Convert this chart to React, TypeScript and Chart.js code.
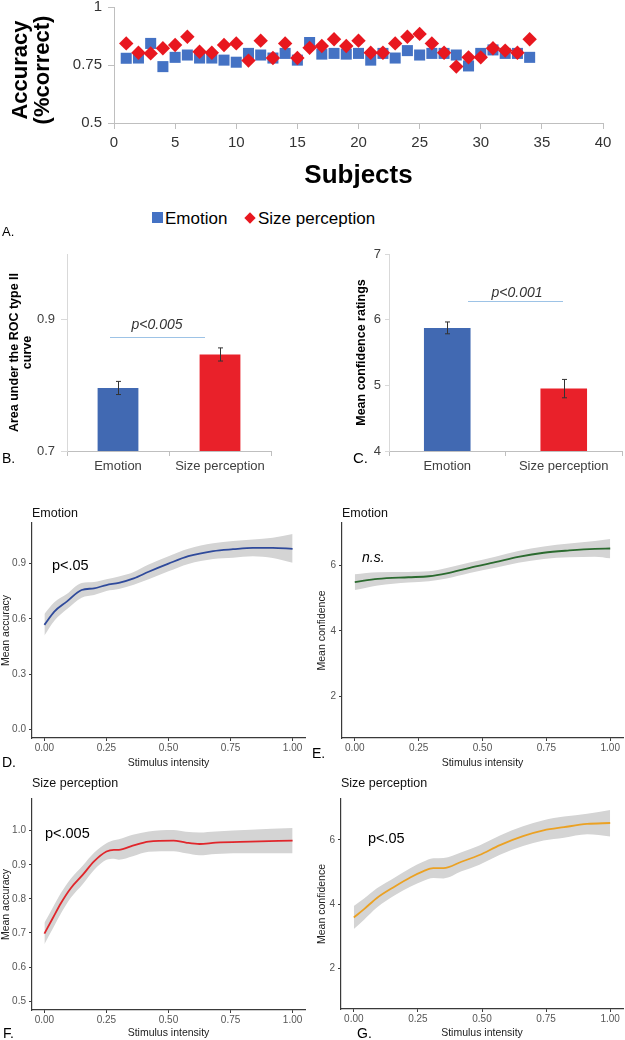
import React, { useEffect, useRef } from 'react';
import { Chart, registerables } from 'chart.js';

Chart.register(...registerables);

const FONT = '"Liberation Sans", Arial, Helvetica, sans-serif';
Chart.defaults.font.family = FONT;

// ---------- Panel A: accuracy per subject ----------
const subjects = [1, 2, 3, 4, 5, 6, 7, 8, 9, 10, 11, 12, 13, 14, 15, 16, 17, 18, 19, 20, 21, 22, 23, 24, 25, 26, 27, 28, 29, 30, 31, 32, 33, 34];
const emotionAcc = [0.779, 0.78, 0.843, 0.743, 0.783, 0.793, 0.78, 0.78, 0.771, 0.762, 0.8, 0.793, 0.78, 0.8, 0.771, 0.847, 0.797, 0.8, 0.797, 0.8, 0.771, 0.8, 0.78, 0.812, 0.793, 0.8, 0.8, 0.793, 0.746, 0.8, 0.815, 0.8, 0.8, 0.783];
const sizeAcc = [0.843, 0.803, 0.8, 0.822, 0.836, 0.872, 0.807, 0.803, 0.836, 0.843, 0.769, 0.855, 0.78, 0.843, 0.78, 0.824, 0.832, 0.861, 0.832, 0.855, 0.803, 0.803, 0.843, 0.872, 0.884, 0.843, 0.803, 0.743, 0.783, 0.783, 0.822, 0.812, 0.803, 0.861];
const aXTicks = [0, 5, 10, 15, 20, 25, 30, 35, 40];
const aYTicks = [0.5, 0.75, 1];

// ---------- Panels B & C: bars ----------
const barCategories = ['Emotion', 'Size perception'];
const aucMeans = [0.796, 0.847];
const aucErr = [0.01, 0.01];
const aucTicks = [0.7, 0.9];
const confMeans = [5.875, 4.95];
const confErr = [0.09, 0.14];
const confTicks = [4, 5, 6, 7];

// ---------- Panels D-G: smoothed curves ----------
const intensityTicks = [0, 0.25, 0.5, 0.75, 1];

const dX = [0, 0.04, 0.09, 0.15, 0.2, 0.25, 0.3, 0.36, 0.42, 0.5, 0.58, 0.68, 0.76, 0.84, 0.92, 1.0];
const dMean = [0.568, 0.64, 0.694, 0.757, 0.766, 0.784, 0.796, 0.82, 0.856, 0.9, 0.94, 0.968, 0.978, 0.985, 0.985, 0.98];
const dHi = [0.627, 0.69, 0.735, 0.795, 0.8, 0.815, 0.83, 0.855, 0.895, 0.94, 0.98, 1.01, 1.022, 1.03, 1.04, 1.06];
const dLo = [0.51, 0.59, 0.652, 0.715, 0.73, 0.752, 0.762, 0.785, 0.815, 0.858, 0.898, 0.925, 0.932, 0.94, 0.93, 0.904];
const dTicks = [0, 0.3, 0.6, 0.9];

const eX = [0, 0.09, 0.21, 0.29, 0.36, 0.45, 0.55, 0.64, 0.74, 0.84, 0.94, 1.0];
const eMean = [5.49, 5.59, 5.64, 5.67, 5.76, 5.93, 6.1, 6.26, 6.39, 6.46, 6.51, 6.52];
const eHi = [5.73, 5.79, 5.8, 5.82, 5.92, 6.09, 6.27, 6.44, 6.58, 6.67, 6.75, 6.81];
const eLo = [5.25, 5.39, 5.48, 5.52, 5.6, 5.77, 5.93, 6.08, 6.2, 6.25, 6.27, 6.22];
const eTicks = [2, 4, 6];

const fX = [0, 0.034, 0.067, 0.107, 0.155, 0.2, 0.25, 0.28, 0.3, 0.356, 0.42, 0.52, 0.57, 0.625, 0.69, 0.83, 1.0];
const fMean = [0.698, 0.744, 0.788, 0.832, 0.871, 0.91, 0.939, 0.944, 0.944, 0.956, 0.968, 0.971, 0.965, 0.961, 0.965, 0.968, 0.971];
const fHi = [0.73, 0.775, 0.818, 0.86, 0.898, 0.935, 0.963, 0.972, 0.975, 0.988, 0.998, 1.002, 0.997, 0.995, 0.998, 1.003, 1.008];
const fLo = [0.667, 0.713, 0.758, 0.804, 0.844, 0.885, 0.915, 0.918, 0.915, 0.925, 0.938, 0.94, 0.934, 0.928, 0.932, 0.934, 0.934];
const fTicks = [0.5, 0.6, 0.7, 0.8, 0.9, 1.0];

const gX = [0, 0.04, 0.09, 0.16, 0.22, 0.27, 0.31, 0.35, 0.42, 0.49, 0.57, 0.66, 0.74, 0.82, 0.91, 1.0];
const gMean = [3.58, 3.84, 4.19, 4.55, 4.83, 5.02, 5.12, 5.12, 5.32, 5.53, 5.84, 6.12, 6.3, 6.4, 6.5, 6.53];
const gHi = [3.94, 4.17, 4.49, 4.83, 5.12, 5.32, 5.43, 5.44, 5.62, 5.83, 6.14, 6.43, 6.62, 6.73, 6.82, 6.94];
const gLo = [3.22, 3.51, 3.89, 4.27, 4.54, 4.72, 4.81, 4.8, 5.02, 5.23, 5.54, 5.81, 5.98, 6.07, 6.18, 6.11];
const gTicks = [2, 4, 6];

// ---------- colours ----------
const SC_BLUE = '#4472C4';
const SC_RED = '#E8171F';
const BAR_BLUE = '#4169B2';
const BAR_RED = '#E9212A';
const BAND = '#D4D4D4';
const AXIS_DARK = '#3a3a3a';

type Box = { left: number; top: number; width: number; height: number };

function ChartCanvas({ box, make }: { box: Box; make: () => any }) {
  const ref = useRef<HTMLCanvasElement>(null);
  useEffect(() => {
    const chart = new Chart(ref.current as HTMLCanvasElement, make());
    return () => chart.destroy();
  }, []);
  return (
    <div style={{ position: 'absolute', left: box.left, top: box.top, width: box.width, height: box.height }}>
      <canvas ref={ref} width={box.width} height={box.height} style={{ width: box.width, height: box.height, display: 'block' }} />
    </div>
  );
}

const setTicks = (vals: number[]) => (s: any) => {
  s.ticks = vals.map((v) => ({ value: v }));
};
const fixW = (w: number) => (s: any) => {
  s.width = w;
};
const fixH = (h: number) => (s: any) => {
  s.height = h;
};

const baseOpts = {
  responsive: false,
  animation: false,
  devicePixelRatio: 1,
  events: [],
};

function makeScatter() {
  return {
    type: 'scatter',
    data: {
      datasets: [
        {
          label: 'Emotion',
          data: subjects.map((s, i) => ({ x: s, y: emotionAcc[i] })),
          pointStyle: 'rect',
          pointRadius: 7.8,
          backgroundColor: SC_BLUE,
          borderWidth: 0,
          order: 2,
        },
        {
          label: 'Size perception',
          data: subjects.map((s, i) => ({ x: s, y: sizeAcc[i] })),
          pointStyle: 'rectRot',
          pointRadius: 7.2,
          backgroundColor: SC_RED,
          borderWidth: 0,
          order: 1,
        },
      ],
    },
    options: {
      ...baseOpts,
      layout: { padding: { left: 0, top: 17, right: 22, bottom: 0 } },
      plugins: { legend: { display: false }, tooltip: { enabled: false } },
      scales: {
        x: {
          type: 'linear',
          min: 0,
          max: 40,
          afterFit: fixH(72),
          afterBuildTicks: setTicks(aXTicks),
          grid: { drawOnChartArea: false, drawTicks: true, tickLength: 6, color: '#BFBFBF' },
          border: { display: true, color: '#BFBFBF', width: 1 },
          ticks: { font: { size: 15 }, color: '#333', padding: 5, autoSkip: false, maxRotation: 0, callback: (v: number) => String(v) },
          title: { display: true, text: 'Subjects', color: '#000', font: { size: 26, weight: 'bold', lineHeight: 1.15 }, padding: { top: 0, bottom: 4 } },
        },
        y: {
          type: 'linear',
          min: 0.5,
          max: 1,
          afterFit: fixW(114),
          afterBuildTicks: setTicks(aYTicks),
          grid: { drawOnChartArea: false, drawTicks: true, tickLength: 6, color: '#BFBFBF' },
          border: { display: true, color: '#BFBFBF', width: 1 },
          ticks: { font: { size: 15 }, color: '#333', padding: 6, callback: (v: number) => String(v) },
          title: { display: false },
        },
      },
    },
  };
}

function errorBars(errs: number[]) {
  return {
    id: 'errorBars',
    afterDatasetsDraw(chart: any) {
      const meta = chart.getDatasetMeta(0);
      const ys = chart.scales.y;
      const vals = chart.data.datasets[0].data;
      const ctx = chart.ctx;
      ctx.save();
      ctx.strokeStyle = '#333';
      ctx.lineWidth = 1;
      meta.data.forEach((bar: any, i: number) => {
        const x = Math.round(bar.x) + 0.5;
        const t = ys.getPixelForValue(vals[i] + errs[i]);
        const b = ys.getPixelForValue(vals[i] - errs[i]);
        ctx.beginPath();
        ctx.moveTo(x, t);
        ctx.lineTo(x, b);
        ctx.moveTo(x - 2.5, t);
        ctx.lineTo(x + 2.5, t);
        ctx.moveTo(x - 2.5, b);
        ctx.lineTo(x + 2.5, b);
        ctx.stroke();
      });
      ctx.restore();
    },
  };
}

function makeBar(spec: {
  values: number[];
  errs: number[];
  min: number;
  max: number;
  ticks: number[];
  digits: number;
  yWidth: number;
  padTop: number;
  padRight: number;
  xHeight: number;
  title: string | string[];
  titlePad: number;
  tickLen: number;
  tickPad: number;
}) {
  return {
    type: 'bar',
    data: {
      labels: barCategories,
      datasets: [
        {
          data: spec.values,
          backgroundColor: [BAR_BLUE, BAR_RED],
          barPercentage: 0.4,
          categoryPercentage: 1,
        },
      ],
    },
    options: {
      ...baseOpts,
      layout: { padding: { left: 0, top: spec.padTop, right: spec.padRight, bottom: 0 } },
      plugins: { legend: { display: false }, tooltip: { enabled: false } },
      scales: {
        x: {
          afterFit: fixH(spec.xHeight),
          grid: { offset: true, drawOnChartArea: false, drawTicks: true, tickLength: 5, color: '#BFBFBF' },
          border: { display: true, color: '#BFBFBF', width: 1 },
          ticks: { font: { size: 13 }, color: '#404040', padding: 3, maxRotation: 0, autoSkip: false },
        },
        y: {
          min: spec.min,
          max: spec.max,
          afterFit: fixW(spec.yWidth),
          afterBuildTicks: setTicks(spec.ticks),
          grid: { drawOnChartArea: false, drawTicks: true, tickLength: spec.tickLen, color: '#D9D9D9' },
          border: { display: true, color: '#D9D9D9', width: 1 },
          ticks: { font: { size: 13 }, color: '#404040', padding: spec.tickPad, callback: (v: number) => v.toFixed(spec.digits) },
          title: { display: true, text: spec.title, color: '#000', font: { size: 12.5, weight: 'bold', lineHeight: 1.04 }, padding: { top: spec.titlePad, bottom: 0 } },
        },
      },
    },
    plugins: [errorBars(spec.errs)],
  };
}

function makeSmooth(spec: {
  xs: number[];
  mean: number[];
  hi: number[];
  lo: number[];
  color: string;
  min: number;
  max: number;
  ticks: number[];
  digits: number;
  yTitle: string;
  yWidth: number;
  xHeight: number;
  padTop: number;
  padRight: number;
  yTitlePad: number;
}) {
  const line = { borderWidth: 0, borderColor: 'rgba(0,0,0,0)', pointRadius: 0, cubicInterpolationMode: 'monotone' };
  return {
    type: 'line',
    data: {
      datasets: [
        {
          data: spec.xs.map((x, i) => ({ x, y: spec.mean[i] })),
          borderColor: spec.color,
          borderWidth: 1.8,
          pointRadius: 0,
          fill: false,
          cubicInterpolationMode: 'monotone',
        },
        { ...line, data: spec.xs.map((x, i) => ({ x, y: spec.hi[i] })), fill: '+1', backgroundColor: BAND },
        { ...line, data: spec.xs.map((x, i) => ({ x, y: spec.lo[i] })), fill: false },
      ],
    },
    options: {
      ...baseOpts,
      layout: { padding: { left: 0, top: spec.padTop, right: spec.padRight, bottom: 0 } },
      plugins: { legend: { display: false }, tooltip: { enabled: false } },
      scales: {
        x: {
          type: 'linear',
          min: -0.05,
          max: 1.05,
          afterFit: fixH(spec.xHeight),
          afterBuildTicks: setTicks(intensityTicks),
          grid: { drawOnChartArea: false, drawTicks: true, tickLength: 3, color: AXIS_DARK },
          border: { display: true, color: AXIS_DARK, width: 1.2 },
          ticks: { font: { size: 10 }, color: '#555', padding: 1, autoSkip: false, maxRotation: 0, callback: (v: number) => v.toFixed(2) },
          title: { display: true, text: 'Stimulus intensity', color: '#222', font: { size: 10.5, lineHeight: 1.2 }, padding: { top: 0, bottom: 0.7 } },
        },
        y: {
          type: 'linear',
          min: spec.min,
          max: spec.max,
          afterFit: fixW(spec.yWidth),
          afterBuildTicks: setTicks(spec.ticks),
          grid: { drawOnChartArea: false, drawTicks: true, tickLength: 3, color: AXIS_DARK },
          border: { display: true, color: AXIS_DARK, width: 1.2 },
          ticks: { font: { size: 10 }, color: '#555', padding: 3, callback: (v: number) => v.toFixed(spec.digits) },
          title: { display: true, text: spec.yTitle, color: '#222', font: { size: 10.5, lineHeight: 1.2 }, padding: { top: spec.yTitlePad, bottom: 0 } },
        },
      },
    },
  };
}

function Txt({
  x,
  y,
  text,
  size,
  bold,
  italic,
  color,
  center,
}: {
  x: number;
  y: number;
  text: string;
  size: number;
  bold?: boolean;
  italic?: boolean;
  color?: string;
  center?: boolean;
}) {
  return (
    <div
      style={{
        position: 'absolute',
        left: x,
        top: y,
        transform: `translate(${center ? '-50%' : '0'}, -50%)`,
        fontFamily: FONT,
        fontSize: size,
        fontWeight: bold ? 'bold' : 'normal',
        fontStyle: italic ? 'italic' : 'normal',
        color: color || '#000',
        lineHeight: 1,
        whiteSpace: 'nowrap',
      }}
    >
      {text}
    </div>
  );
}

export default function App() {
  return (
    <div style={{ position: 'absolute', left: 0, top: 0, width: 625, height: 1040, background: '#fff', overflow: 'hidden' }}>
      <ChartCanvas box={{ left: 0, top: -10, width: 625, height: 205 }} make={makeScatter} />
      <div
        style={{
          position: 'absolute',
          left: 31,
          top: 70,
          transform: 'translate(-50%, -50%) rotate(-90deg)',
          fontFamily: FONT,
          fontSize: 22,
          fontWeight: 'bold',
          lineHeight: '22px',
          textAlign: 'center',
          whiteSpace: 'nowrap',
          color: '#000',
        }}
      >
        Accuracy
        <br />
        (%correct)
      </div>

      {/* legend */}
      <div style={{ position: 'absolute', left: 152, top: 212, width: 11, height: 11, background: SC_BLUE }} />
      <Txt x={165} y={218} text="Emotion" size={17} />
      <div style={{ position: 'absolute', left: 246, top: 214, width: 8, height: 8, background: SC_RED, transform: 'rotate(45deg)' }} />
      <Txt x={258} y={218} text="Size perception" size={17} />
      <Txt x={2} y={231} text="A." size={13} />

      <ChartCanvas
        box={{ left: 0, top: 240, width: 300, height: 235 }}
        make={() =>
          makeBar({
            values: aucMeans,
            errs: aucErr,
            min: 0.7,
            max: 1.0,
            ticks: aucTicks,
            digits: 1,
            yWidth: 67,
            padTop: 14,
            padRight: 29,
            xHeight: 24,
            title: ['Area under the ROC type II', 'curve'],
            titlePad: 8.5,
            tickLen: 6,
            tickPad: 6,
          })
        }
      />
      <Txt x={157} y={324} text="p<0.005" size={14} italic color="#333" center />
      <div style={{ position: 'absolute', left: 110, top: 337, width: 95, height: 1, background: '#9DC3E6' }} />
      <Txt x={2} y={458} text="B." size={14} />

      <ChartCanvas
        box={{ left: 340, top: 240, width: 285, height: 235 }}
        make={() =>
          makeBar({
            values: confMeans,
            errs: confErr,
            min: 4,
            max: 7,
            ticks: confTicks,
            digits: 0,
            yWidth: 49,
            padTop: 14,
            padRight: 3,
            xHeight: 24,
            title: 'Mean confidence ratings',
            titlePad: 15.5,
            tickLen: 4,
            tickPad: 4,
          })
        }
      />
      <Txt x={517} y={292} text="p<0.001" size={14} italic color="#333" center />
      <div style={{ position: 'absolute', left: 468, top: 301, width: 95, height: 1, background: '#9DC3E6' }} />
      <Txt x={353} y={457} text="C." size={15} />

      <ChartCanvas
        box={{ left: 0, top: 500, width: 310, height: 270 }}
        make={() =>
          makeSmooth({
            xs: dX,
            mean: dMean,
            hi: dHi,
            lo: dLo,
            color: '#2F4A9B',
            min: -0.045,
            max: 1.12,
            ticks: dTicks,
            digits: 1,
            yTitle: 'Mean accuracy',
            yWidth: 32,
            xHeight: 32,
            padTop: 23,
            padRight: 5,
            yTitlePad: 0,
          })
        }
      />
      <Txt x={32} y={513} text="Emotion" size={12.5} color="#111" />
      <Txt x={52} y={565} text="p<.05" size={14.5} />
      <Txt x={2} y={762} text="D." size={14} />

      <ChartCanvas
        box={{ left: 310, top: 500, width: 315, height: 270 }}
        make={() =>
          makeSmooth({
            xs: eX,
            mean: eMean,
            hi: eHi,
            lo: eLo,
            color: '#2B6A2F',
            min: 0.72,
            max: 7.3,
            ticks: eTicks,
            digits: 0,
            yTitle: 'Mean confidence',
            yWidth: 32,
            xHeight: 32,
            padTop: 23,
            padRight: 2,
            yTitlePad: 5.7,
          })
        }
      />
      <Txt x={342} y={513} text="Emotion" size={12.5} color="#111" />
      <Txt x={362} y={557} text="n.s." size={14} italic />
      <Txt x={312} y={753} text="E." size={14} />

      <ChartCanvas
        box={{ left: 0, top: 790, width: 310, height: 250 }}
        make={() =>
          makeSmooth({
            xs: fX,
            mean: fMean,
            hi: fHi,
            lo: fLo,
            color: '#E0262B',
            min: 0.474,
            max: 1.093,
            ticks: fTicks,
            digits: 1,
            yTitle: 'Mean accuracy',
            yWidth: 32,
            xHeight: 30,
            padTop: 7,
            padRight: 5,
            yTitlePad: 0,
          })
        }
      />
      <Txt x={32} y={783} text="Size perception" size={12.5} color="#111" />
      <Txt x={45} y={833} text="p<.005" size={14.5} />
      <Txt x={3} y={1033} text="F." size={14} />

      <ChartCanvas
        box={{ left: 310, top: 790, width: 315, height: 250 }}
        make={() =>
          makeSmooth({
            xs: gX,
            mean: gMean,
            hi: gHi,
            lo: gLo,
            color: '#EBA123',
            min: 0.72,
            max: 7.28,
            ticks: gTicks,
            digits: 0,
            yTitle: 'Mean confidence',
            yWidth: 31,
            xHeight: 31,
            padTop: 7,
            padRight: 2,
            yTitlePad: 5.7,
          })
        }
      />
      <Txt x={341} y={783} text="Size perception" size={12.5} color="#111" />
      <Txt x={368} y={838} text="p<.05" size={14.5} />
      <Txt x={357} y={1033} text="G." size={14} />
    </div>
  );
}
